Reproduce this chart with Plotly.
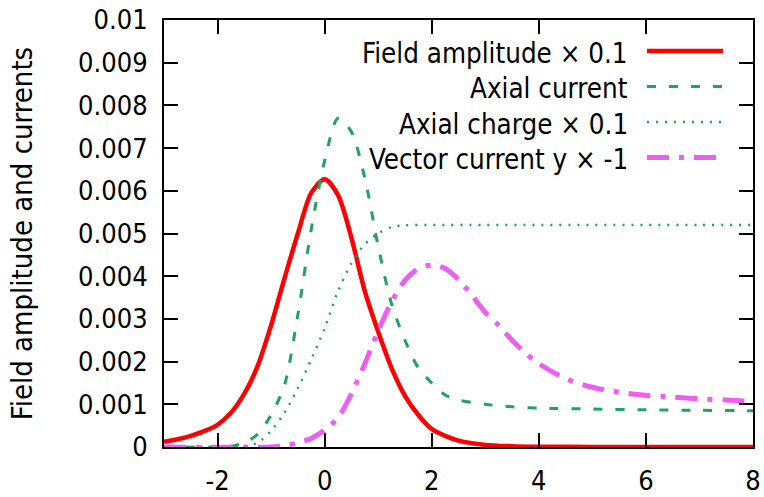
import plotly.graph_objects as go

# ---- data (in units of 1e-3) ----
x_field = [-3, -2.75, -2.5, -2.25, -2, -1.75, -1.5, -1.25, -1, -0.75, -0.5, -0.25, 0,
           0.25, 0.5, 0.75, 1, 1.25, 1.5, 1.75, 2, 2.25, 2.5, 3, 3.5, 4, 5, 6, 7, 8]
y_field = [0.12, 0.18, 0.26, 0.37, 0.52, 0.8, 1.25, 1.9, 2.85, 3.95, 5.0, 5.95, 6.27,
           5.9, 4.9, 3.65, 2.7, 1.85, 1.2, 0.75, 0.42, 0.26, 0.15, 0.05, 0.02, 0.008, 0.001, 0, 0, 0]

x_axial = [-3, -2, -1.75, -1.5, -1.25, -1, -0.75, -0.5, -0.25, 0, 0.25, 0.5, 0.75, 1,
           1.25, 1.5, 1.75, 2, 2.25, 2.5, 3, 3.5, 4, 5, 6, 7, 8]
y_axial = [0, 0, 0.02, 0.1, 0.3, 0.75, 1.45, 3.1, 5.1, 6.7, 7.7, 7.38, 6.3, 4.7,
           3.35, 2.5, 1.85, 1.5, 1.22, 1.1, 1.0, 0.94, 0.91, 0.89, 0.87, 0.86, 0.85]

x_charge = [-3, -2, -1.5, -1.25, -1, -0.75, -0.5, -0.25, 0, 0.25, 0.5, 0.75, 1, 1.25,
            1.5, 2, 3, 4, 5, 6, 7, 8]
y_charge = [0, 0, 0.02, 0.1, 0.38, 0.8, 1.38, 2.05, 2.78, 3.65, 4.3, 4.75, 5.0, 5.15,
            5.19, 5.2, 5.2, 5.2, 5.2, 5.2, 5.2, 5.2]

x_vector = [-3, -1, -0.75, -0.5, -0.25, 0, 0.25, 0.5, 0.75, 1, 1.25, 1.5, 1.75, 2, 2.25,
            2.5, 2.75, 3, 3.25, 3.5, 3.75, 4, 4.5, 5, 5.5, 6, 6.5, 7, 7.5, 8]
y_vector = [0, 0, 0.03, 0.1, 0.2, 0.4, 0.68, 1.25, 1.95, 2.72, 3.4, 3.9, 4.18, 4.26, 4.18,
            3.92, 3.55, 3.15, 2.85, 2.5, 2.2, 1.95, 1.6, 1.4, 1.28, 1.21, 1.17, 1.13, 1.1, 1.07]

series_names = ["Field amplitude × 0.1", "Axial current", "Axial charge × 0.1", "Vector current y × -1"]

x_ticks = [-2, 0, 2, 4, 6, 8]
y_ticks = [0, 0.001, 0.002, 0.003, 0.004, 0.005, 0.006, 0.007, 0.008, 0.009, 0.01]
y_tick_text = ["0", "0.001", "0.002", "0.003", "0.004", "0.005", "0.006", "0.007", "0.008", "0.009", "0.01"]

scale = 1e-3
FONT = "DejaVu Sans Condensed, DejaVu Sans, sans-serif"

styles = [
    dict(color="#ff0000", width=4.5, dash="solid"),
    dict(color="#20a263", width=3, dash="9px,13px"),
    dict(color="#20a263", width=2.5, dash="2px,7px"),
    dict(color="#ee5ef0", width=5, dash="22px,10px,5px,10px"),
]

data = [(x_field, y_field), (x_axial, y_axial), (x_charge, y_charge), (x_vector, y_vector)]

fig = go.Figure()
for (xs, ys), name, st in zip(data, series_names, styles):
    fig.add_trace(go.Scatter(x=xs, y=[v * scale for v in ys], mode="lines", name=name,
                             line=dict(color=st["color"], width=st["width"], dash=st["dash"],
                                       shape="spline", smoothing=0.8),
                             showlegend=False))

# legend (gnuplot style: text on the left, sample on the right)
row_y = [0.9274, 0.8443, 0.7611, 0.6780]
for name, st, ry in zip(series_names, styles, row_y):
    fig.add_annotation(x=0.791, y=ry - 0.004, xref="paper", yref="paper", text=name, showarrow=False,
                       xanchor="right", yanchor="middle", font=dict(size=27.5, color="black", family=FONT))
    fig.add_shape(type="line", xref="paper", yref="paper", x0=0.820, x1=0.949, y0=ry, y1=ry,
                  line=dict(color=st["color"], width=st["width"], dash=st["dash"]))

axis_common = dict(showline=True, linecolor="black", linewidth=2, mirror="ticks",
                   ticks="inside", ticklen=14, tickwidth=2, tickcolor="black",
                   showgrid=False, zeroline=False, automargin=False,
                   tickfont=dict(size=27, color="black", family=FONT))

fig.update_xaxes(range=[-3, 8], tickvals=x_ticks, ticktext=[str(t) for t in x_ticks],
                 ticklabelstandoff=9, **axis_common)
fig.update_yaxes(range=[0, 0.01], tickvals=y_ticks, ticktext=y_tick_text,
                 ticklabelstandoff=9,
                 title=dict(text="Field amplitude and currents", standoff=37,
                            font=dict(size=29, color="black", family=FONT)),
                 **axis_common)

fig.update_layout(width=764, height=497, margin=dict(l=164, r=11, t=20, b=50),
                  plot_bgcolor="white", paper_bgcolor="white",
                  font=dict(family=FONT, color="black"))

fig.write_html("out.html")
